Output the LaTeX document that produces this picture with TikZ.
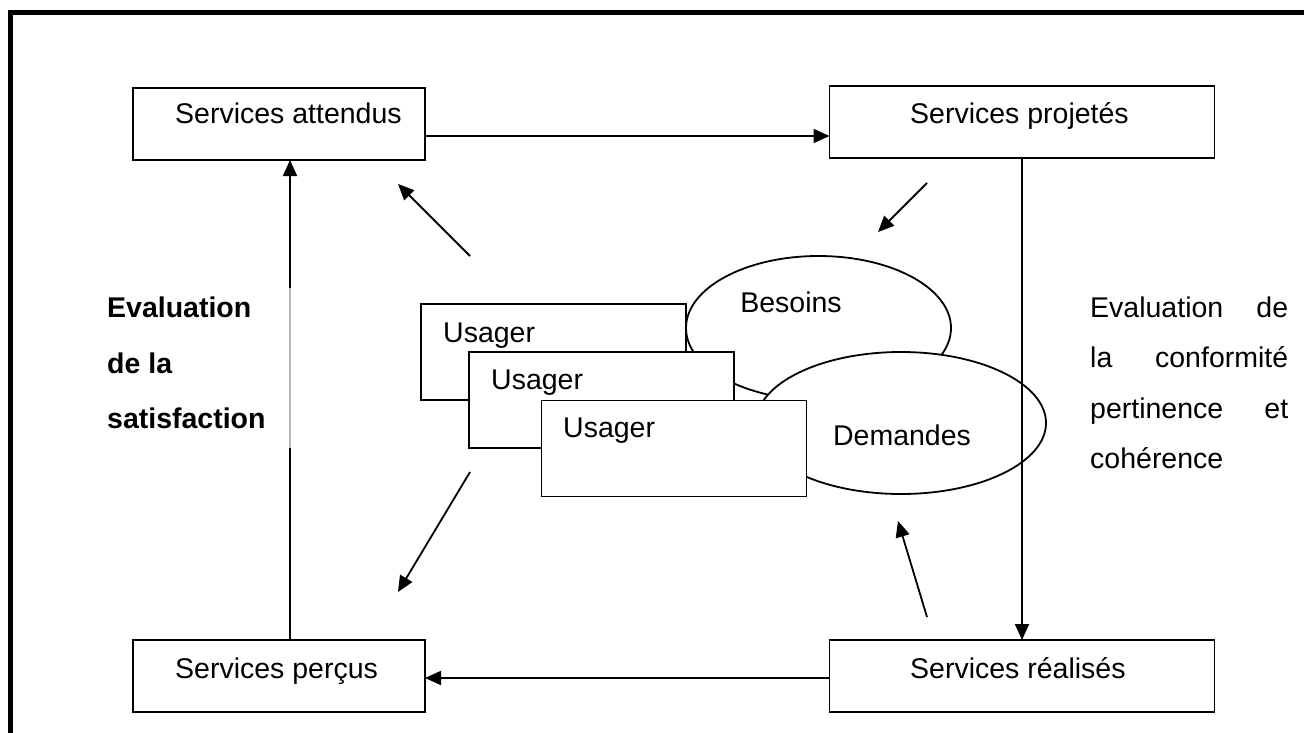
\documentclass[tikz,border=0pt]{standalone}
\usepackage{fontspec}
\setmainfont{Liberation Sans}
\usetikzlibrary{arrows.meta,shapes.geometric}
\begin{document}
\begin{tikzpicture}[x=1pt,y=-1pt,
  box/.style={draw,line width=1.8pt,fill=white,inner sep=0pt,outer sep=0pt,minimum width=#1,minimum height=72pt},
  box/.default=292pt,
  ubox/.style={draw,line width=1.8pt,fill=white,inner sep=0pt,outer sep=0pt,minimum width=265pt,minimum height=96pt},
  ell/.style={draw,ellipse,line width=1.8pt,fill=white,inner sep=0pt,outer sep=0pt},
  txt/.style={inner sep=0pt,font=\fontsize{28.5}{34}\selectfont},
  btxt/.style={inner sep=0pt,font=\fontsize{28.5}{34}\selectfont\bfseries},
  arr/.style={line width=1.8pt,-{Triangle[length=16pt,width=14pt]}},
]
\useasboundingbox (0,0) rectangle (1304,733);
% frame
\draw[line width=5pt,line join=miter] (10.5,733) -- (10.5,13) -- (1304,13);

% service boxes
\node[box] (att) at (279,124) {};
\node[box=385pt] (proj) at (1022,122) {};
\node[box] (perc) at (279,676) {};
\node[box=385pt] (real) at (1022,676) {};
\node[txt,anchor=base west] (tatt) at (175,124) {Services attendus};
\node[txt,anchor=base west] (tproj) at (910,124) {Services projetés};
\node[txt,anchor=base west] (tperc) at (175,678) {Services perçus};
\node[txt,anchor=base west] (treal) at (910,678) {Services réalisés};

% main arrows
\draw[arr] ([yshift=-12pt]att.east) -- ([yshift=-14pt]proj.west);
\draw[arr] ([xshift=11pt]perc.north) -- ([xshift=11pt]att.south);
\draw[arr] ([yshift=-2pt]real.west) -- ([yshift=-2pt]perc.east);
\draw[gray!55,line width=1.8pt] (290,288) -- (290,448);

% center cluster
\node[ell,minimum width=265pt,minimum height=144pt] (bes) at (818.5,328) {};
\node[txt,anchor=base] at (791,312) {Besoins};
\node[ubox] (u1) at (553.5,352) {};
\node[txt,anchor=base west] at (443,342) {Usager};
\node[ubox] (u2) at (601.5,400) {};
\node[txt,anchor=base west] at (491,389) {Usager};
\node[ell,minimum width=290pt,minimum height=142pt] (dem) at (901,423) {};
\node[txt,anchor=base] at (902,445) {Demandes};
\node[ubox] (u3) at (674,448.5) {};
\node[txt,anchor=base west] at (563,437) {Usager};

\draw[arr] (proj.south) -- (real.north);

% diagonal arrows
\coordinate (a1s) at (470,256); \coordinate (a1e) at (398,184);
\coordinate (a2s) at (927,183); \coordinate (a2e) at (878,232);
\coordinate (a3s) at (470,472); \coordinate (a3e) at (398,592);
\coordinate (a4s) at (927,617); \coordinate (a4e) at (898,521);
\draw[arr] (a1s) -- (a1e);
\draw[arr] (a2s) -- (a2e);
\draw[arr] (a3s) -- (a3e);
\draw[arr] (a4s) -- (a4e);

% left text
\node[btxt,anchor=base west] at (107,317) {Evaluation};
\node[btxt,anchor=base west] at (107,373) {de la};
\node[btxt,anchor=base west] at (107,428) {satisfaction};

% right text
\node[txt,anchor=base west] at (1090,317) {\hbox to 198pt{Evaluation\hfill de}};
\node[txt,anchor=base west] at (1090,367) {\hbox to 198pt{la\hfill conformité}};
\node[txt,anchor=base west] at (1090,418) {\hbox to 198pt{pertinence\hfill et}};
\node[txt,anchor=base west] at (1090,468) {cohérence};
\end{tikzpicture}
\end{document}
